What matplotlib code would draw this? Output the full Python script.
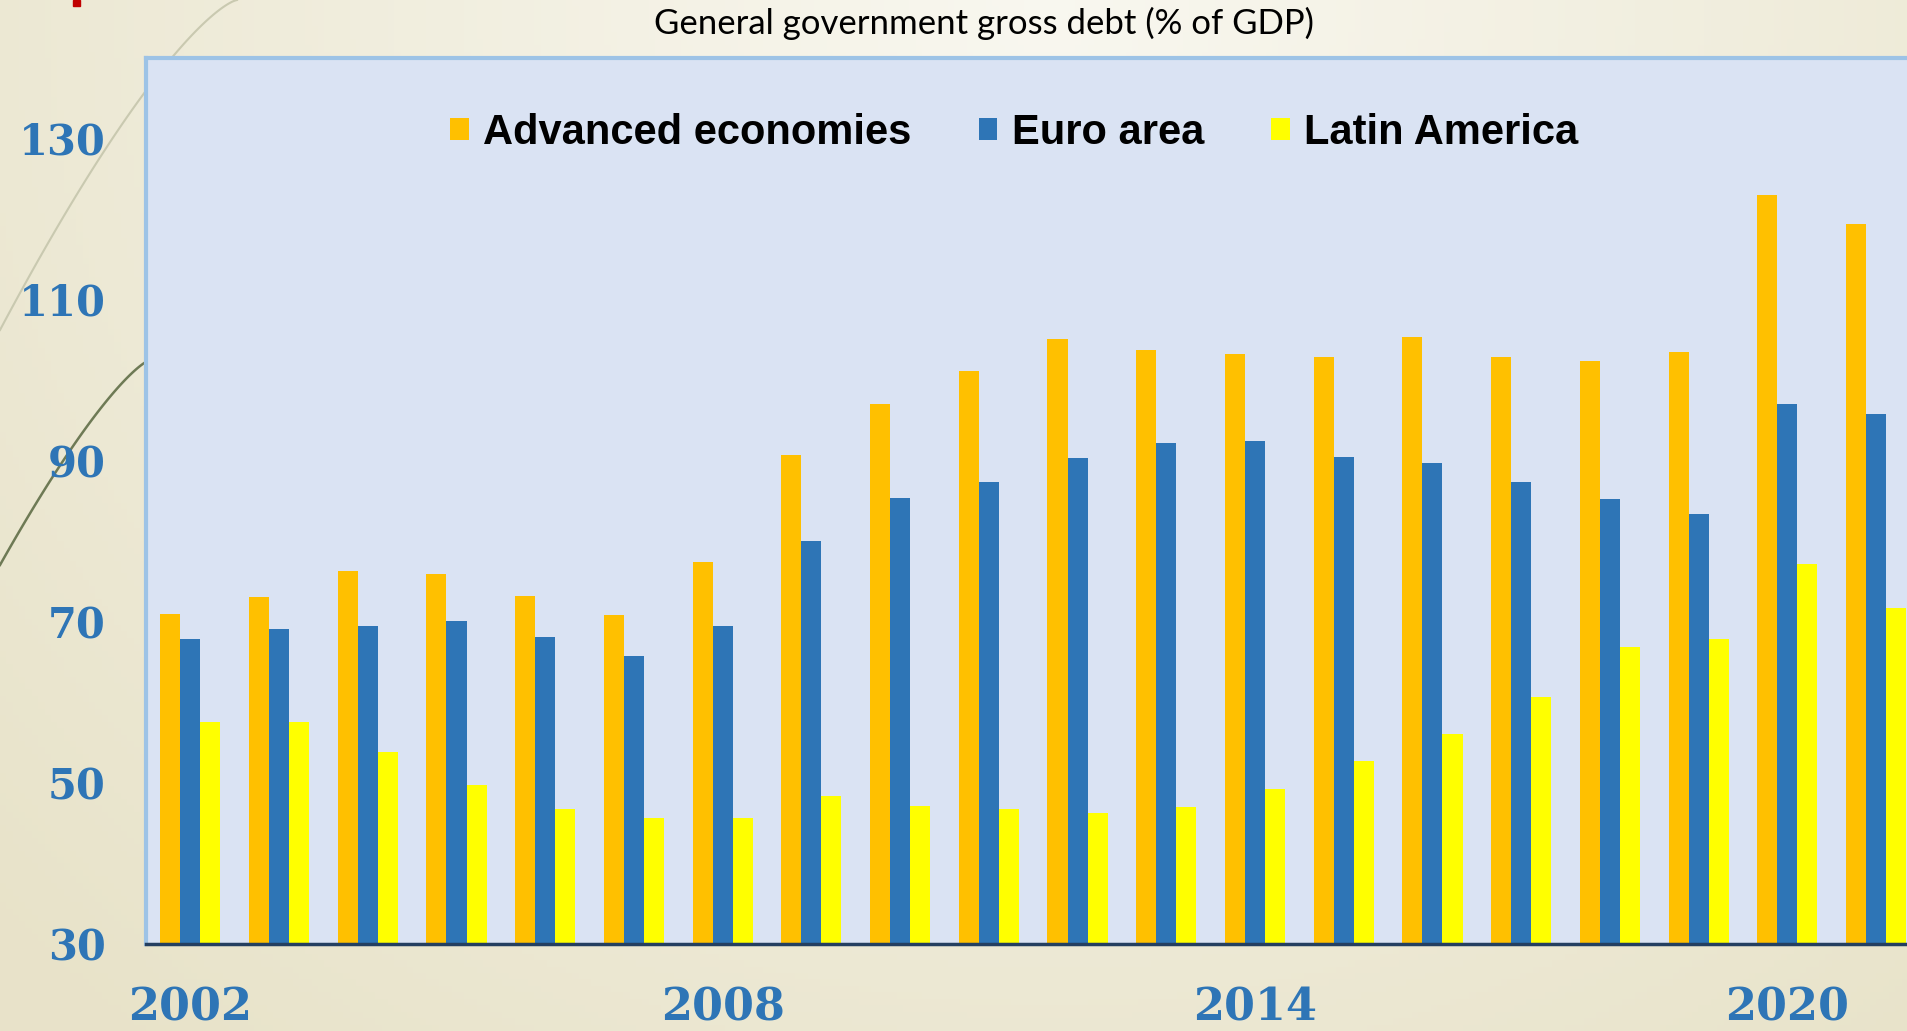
import numpy as np
import matplotlib.pyplot as plt

# data (general government gross debt, % of GDP)
years = list(range(2002, 2022))
advanced = [71.0, 73.0, 76.3, 75.9, 73.2, 70.8, 77.4, 90.7, 97.0, 101.1,
            105.1, 103.7, 103.2, 102.9, 105.3, 102.9, 102.4, 103.5, 122.9, 119.4]
euro_area = [67.8, 69.1, 69.5, 70.1, 68.1, 65.7, 69.4, 80.0, 85.4, 87.3,
             90.3, 92.2, 92.4, 90.5, 89.7, 87.3, 85.2, 83.4, 97.0, 95.8]
latin_america = [57.5, 57.5, 53.8, 49.7, 46.8, 45.6, 45.6, 48.3, 47.1, 46.7,
                 46.3, 47.0, 49.2, 52.7, 56.1, 60.6, 66.8, 67.8, 77.1, 71.7]
series_names = ['Advanced economies', 'Euro area', 'Latin America']
y_ticks = [30, 50, 70, 90, 110, 130]
x_tick_years = [2002, 2008, 2014, 2020]

colors = ['#FFC000', '#2E75B6', '#FFFF00']
tick_blue = '#2E75B6'

fig = plt.figure(figsize=(19.08, 10.31), dpi=100)

# slide background (beige gradient + decorative arcs)
bg = fig.add_axes([0, 0, 1, 1], zorder=-5)
gx, gy = np.meshgrid(np.linspace(0, 1, 300), np.linspace(0, 1, 160))
t = np.clip(1 - np.sqrt(((gx - 0.55) / 0.75) ** 2 + (gy / 1.3) ** 2), 0, 1)
dark = np.array([0.91, 0.89, 0.79])
light = np.array([0.975, 0.97, 0.94])
grad = dark + (light - dark) * t[..., None]
bg.imshow(grad, extent=[0, 1908, 1031, 0], aspect='auto')
bg.set_xlim(0, 1908)
bg.set_ylim(1031, 0)
s = np.linspace(0, 1, 100)
bg.plot(237 * s, 330 * (1 - s) ** 1.35, color='#C9C9B0', lw=1.5)
bg.plot(150 * s, 360 + 205 * (1 - s) ** 1.3, color='#6E7A55', lw=1.8)
bg.add_patch(plt.Rectangle((73, 0), 7, 6, color='#C00000'))
bg.axis('off')

# chart
ax = fig.add_axes([0.0765, 0.0845, 0.930, 0.8595])
ax.set_facecolor('#DAE3F3')
x = np.arange(len(years))
w = 0.226
for k, (vals, c) in enumerate(zip([advanced, euro_area, latin_america], colors)):
    ax.bar(x + (k - 1) * w, vals, width=w, color=c, label=series_names[k], zorder=2)

ax.set_xlim(-0.5, len(years) - 0.5)
ax.set_ylim(30, 140)
ax.set_yticks(y_ticks)
ax.set_yticklabels([str(v) for v in y_ticks])
ax.set_xticks([years.index(yr) for yr in x_tick_years])
ax.set_xticklabels([str(yr) for yr in x_tick_years])
ax.tick_params(axis='both', length=0, colors=tick_blue)
ax.tick_params(axis='y', pad=29)
ax.tick_params(axis='x', pad=31)
for lab in ax.get_yticklabels():
    lab.set_fontfamily('DejaVu Serif')
    lab.set_fontweight('bold')
    lab.set_fontsize(30)
for lab in ax.get_xticklabels():
    lab.set_fontfamily('DejaVu Serif')
    lab.set_fontweight('bold')
    lab.set_fontsize(32)

for side in ['left', 'top', 'right']:
    ax.spines[side].set_color('#9DC3E6')
    ax.spines[side].set_linewidth(3)
ax.spines['bottom'].set_color('#243F60')
ax.spines['bottom'].set_linewidth(2.5)

ax.legend(loc='center', bbox_to_anchor=(0.5316, 0.871), bbox_transform=fig.transFigure,
          ncol=3, frameon=False, prop=dict(family='Liberation Sans', weight='bold', size=30),
          handlelength=0.45, handleheight=0.45, handletextpad=0.35, columnspacing=1.6)

fig.text(0.5155, 0.977, 'General government gross debt (% of GDP)', ha='center', va='center',
         fontsize=25, family='Lato', color='black')

fig.savefig('out.png', dpi=100)
